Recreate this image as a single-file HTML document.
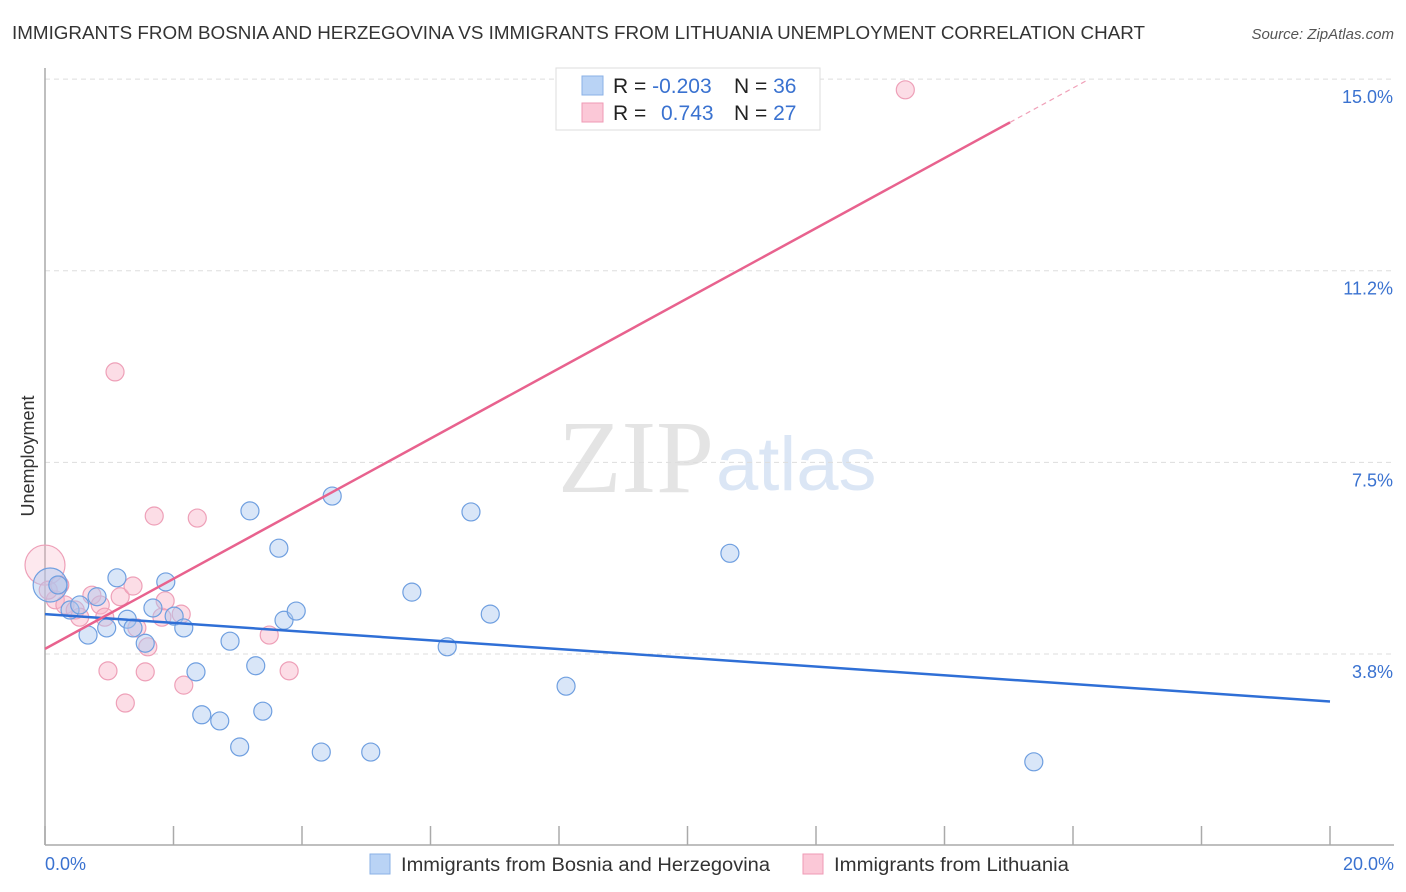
<!DOCTYPE html>
<html><head><meta charset="utf-8"><style>
body{margin:0;background:#fff;font-family:"Liberation Sans",sans-serif;}
svg{display:block}
</style></head><body>
<svg id="chart" width="1406" height="892" xmlns="http://www.w3.org/2000/svg">
<text x="12" y="39" font-size="18" fill="#333" textLength="1133" lengthAdjust="spacingAndGlyphs">IMMIGRANTS FROM BOSNIA AND HERZEGOVINA VS IMMIGRANTS FROM LITHUANIA UNEMPLOYMENT CORRELATION CHART</text>
<text x="1394" y="39" font-size="15" fill="#555" font-style="italic" text-anchor="end">Source: ZipAtlas.com</text>
<text x="714" y="492" font-size="104" fill="#e4e4e4" text-anchor="end" font-family="Liberation Serif, serif">ZIP</text>
<text x="716" y="490" font-size="76" fill="#dbe6f5">atlas</text>
<text transform="translate(34,456) rotate(-90)" font-size="18" fill="#333" text-anchor="middle">Unemployment</text>
<g id="grid"></g><g id="marks"></g>
<g>
<rect x="556" y="68" width="264" height="62" fill="#fff" stroke="#ddd"/>
<rect x="582" y="76" width="21" height="19" fill="#b9d3f5" stroke="#8ab0e6"/>
<rect x="582" y="103" width="21" height="19" fill="#fbc8d7" stroke="#ef9ab4"/>
<text x="613" y="93" font-size="21" fill="#222">R = <tspan fill="#3a72d0">-0.203</tspan><tspan x="734">N = </tspan><tspan fill="#3a72d0">36</tspan></text>
<text x="613" y="120" font-size="21" fill="#222">R = <tspan x="661" fill="#3a72d0">0.743</tspan><tspan x="734">N = </tspan><tspan fill="#3a72d0">27</tspan></text>
</g>
<g>
<rect x="370" y="854" width="20" height="20" fill="#b9d3f5" stroke="#8ab0e6"/>
<text x="401" y="871" font-size="19" fill="#333" textLength="369" lengthAdjust="spacingAndGlyphs">Immigrants from Bosnia and Herzegovina</text>
<rect x="803" y="854" width="20" height="20" fill="#fbc8d7" stroke="#ef9ab4"/>
<text x="834" y="871" font-size="19" fill="#333" textLength="235" lengthAdjust="spacingAndGlyphs">Immigrants from Lithuania</text>
</g>
</svg>
<script>
const blueX=[0.08,0.20,0.81,0.39,0.54,0.67,0.96,1.12,1.28,1.37,1.56,1.68,1.88,2.01,2.16,2.35,2.44,2.72,2.88,3.03,3.19,3.28,3.39,3.64,3.72,3.91,4.30,4.47,5.07,5.71,6.26,6.63,6.93,8.11,10.66,15.39];
const blueY=[5.10,5.10,4.87,4.61,4.71,4.12,4.26,5.24,4.43,4.26,3.96,4.65,5.16,4.49,4.26,3.40,2.56,2.44,4.00,1.93,6.55,3.52,2.63,5.82,4.41,4.59,1.83,6.84,1.83,4.96,3.89,6.53,4.53,3.12,5.72,1.64];
const pinkX=[0,0.16,0.05,0.23,0.31,0.47,0.73,0.86,0.54,0.93,0.98,1.09,1.17,1.25,1.37,1.43,1.56,1.60,1.70,1.82,1.87,2.12,2.16,2.37,3.49,3.80,13.39];
const pinkY=[5.49,4.81,5.00,5.10,4.71,4.61,4.90,4.71,4.47,4.47,3.42,9.27,4.87,2.79,5.08,4.26,3.40,3.89,6.45,4.47,4.79,4.53,3.14,6.41,4.12,3.42,14.79];
const blueTrend=[4.53,2.82];
const pinkTrend=[3.85,0.686];
const yTicks=[3.75,7.5,11.25,15.0];
const yTickLabels=["3.8%","7.5%","11.2%","15.0%"];
const xTicks=[0,2,4,6,8,10,12,14,16,18,20];
const NS="http://www.w3.org/2000/svg";
const sx=v=>45+v*64.25, sy=v=>845.6-v*51.1;
function mk(tag,attrs,parent){const e=document.createElementNS(NS,tag);for(const k in attrs)e.setAttribute(k,attrs[k]);parent.appendChild(e);return e;}
const grid=document.getElementById('grid'),marks=document.getElementById('marks');
yTicks.forEach((t,i)=>{
 const l=mk('line',{x1:45,x2:1394,y1:sy(t),y2:sy(t),stroke:'#ddd','stroke-dasharray':'5,4'},grid);
 
 
 const tx=mk('text',{x:1393,y:sy(t)+24,'font-size':18,fill:'#3a72d0','text-anchor':'end'},grid);
 tx.textContent=yTickLabels[i];
 
 
});
const ax=mk('line',{x1:45,x2:45,y1:68,y2:845,stroke:'#aaa','stroke-width':1.5},grid);


const bx=mk('line',{x1:45,x2:1394,y1:845,y2:845,stroke:'#aaa','stroke-width':1.5},grid);


xTicks.forEach(t=>{const l=mk('line',{x1:sx(t),x2:sx(t),y1:826,y2:845,stroke:'#aaa','stroke-width':1.5},grid);
 
 });
const xl0=mk('text',{x:45,y:870,'font-size':18,fill:'#3a72d0'},grid);xl0.textContent='0.0%';


const xl1=mk('text',{x:1394,y:870,'font-size':18,fill:'#3a72d0','text-anchor':'end'},grid);xl1.textContent='20.0%';


pinkX.forEach((x,i)=>{const r=(i===0)?20:9;
 const c=mk('circle',{cx:sx(x),cy:sy(pinkY[i]),r:r,fill:(i===0)?'rgba(248,180,200,0.3)':'rgba(248,180,200,0.45)',stroke:'#eea0b8','stroke-width':1.2},marks);
 
 });
blueX.forEach((x,i)=>{const r=(i===0)?17:9;
 const c=mk('circle',{cx:sx(x),cy:sy(blueY[i]),r:r,fill:'rgba(170,200,240,0.45)',stroke:'#6f9fe0','stroke-width':1.2},marks);
 
 });
const bl=mk('line',{x1:sx(0),y1:sy(blueTrend[0]),x2:sx(20),y2:sy(blueTrend[1]),stroke:'#2f6fd6','stroke-width':2.5},marks);


const pe=15.02, pd=16.2;
const pl=mk('line',{x1:sx(0),y1:sy(pinkTrend[0]),x2:sx(pe),y2:sy(pinkTrend[0]+pinkTrend[1]*pe),stroke:'#e8628e','stroke-width':2.5},marks);


const pdl=mk('line',{x1:sx(pe),y1:sy(pinkTrend[0]+pinkTrend[1]*pe),x2:sx(pd),y2:sy(pinkTrend[0]+pinkTrend[1]*pd),stroke:'#f0a0b8','stroke-width':1.2,'stroke-dasharray':'5,4'},marks);


</script>
</body></html>
